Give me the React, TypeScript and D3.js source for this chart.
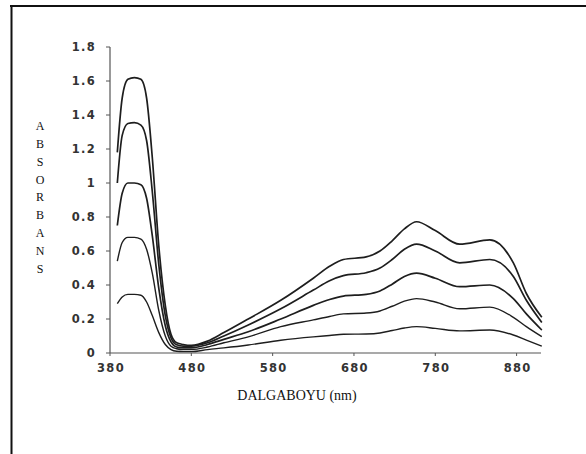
import { useMemo } from 'react'
import * as d3 from 'd3'

const wavelengths = [
    389, 395, 402, 410, 418, 425, 432, 440, 448, 455, 462, 470, 480, 500, 520,
    550, 590, 630, 650, 667, 695, 712, 727, 742, 757, 780, 810, 847, 876, 892, 911
]

const curve1 = [
    1.18, 1.5, 1.61, 1.62, 1.61, 1.5, 1.15, 0.63, 0.28, 0.11, 0.06, 0.05, 0.045,
    0.07, 0.12, 0.2, 0.31, 0.44, 0.51, 0.55, 0.565, 0.6, 0.66, 0.73, 0.772, 0.72,
    0.64, 0.665, 0.53, 0.35, 0.21
]
const curve2 = [
    1.0, 1.28, 1.35, 1.355, 1.34, 1.25, 0.95, 0.52, 0.22, 0.09, 0.048, 0.04, 0.04,
    0.06, 0.1, 0.165, 0.26, 0.37, 0.425, 0.455, 0.472, 0.5, 0.55, 0.61, 0.64, 0.6,
    0.53, 0.55, 0.45, 0.31, 0.18
]
const curve3 = [
    0.75, 0.94, 1.0, 1.0, 0.99, 0.91, 0.69, 0.38, 0.16, 0.065, 0.035, 0.03, 0.03,
    0.05, 0.08, 0.125, 0.2, 0.28, 0.315, 0.335, 0.345, 0.365, 0.405, 0.45, 0.47,
    0.44, 0.39, 0.4, 0.32, 0.23, 0.135
]
const curve4 = [
    0.54, 0.65, 0.68, 0.68, 0.67, 0.61, 0.47, 0.25, 0.1, 0.04, 0.025, 0.02, 0.02,
    0.035, 0.06, 0.095, 0.155, 0.195, 0.215, 0.23, 0.235, 0.247, 0.275, 0.305,
    0.32, 0.3, 0.26, 0.27, 0.21, 0.155, 0.096
]
const curve5 = [
    0.29, 0.33, 0.345, 0.345, 0.34, 0.3, 0.22, 0.12, 0.05, 0.02, 0.01, 0.008,
    0.008, 0.02, 0.03, 0.047, 0.075, 0.095, 0.103, 0.11, 0.112, 0.118, 0.132,
    0.147, 0.155, 0.145, 0.13, 0.135, 0.106, 0.076, 0.04
]

const series = [curve1, curve2, curve3, curve4, curve5]

const xTicks = [380, 480, 580, 680, 780, 880]
const yTicks = [0, 0.2, 0.4, 0.6, 0.8, 1, 1.2, 1.4, 1.6, 1.8]
const yLabelLetters = ['A', 'B', 'S', 'O', 'R', 'B', 'A', 'N', 'S']
const xTitle = 'DALGABOYU (nm)'

const W = 586
const H = 454
const plot = { left: 110, right: 541, top: 47, bottom: 353 }
const serif = '"Liberation Serif", "Times New Roman", "DejaVu Serif", serif'
const tickFont = {
    fontFamily: '"DejaVu Sans", sans-serif',
    fontWeight: 'bold',
    fontSize: 11.5,
    letterSpacing: 1.3,
    fill: '#333'
}

export default function App() {
    const xScale = useMemo(
        () => d3.scaleLinear().domain([380, 910]).range([plot.left, plot.right]),
        []
    )
    const yScale = useMemo(
        () => d3.scaleLinear().domain([0, 1.8]).range([plot.bottom, plot.top]),
        []
    )
    const line = d3
        .line<number>()
        .x((_, i) => xScale(wavelengths[i]))
        .y((d) => yScale(d))
        .curve(d3.curveMonotoneX)

    return (
        <svg
            width={W}
            height={H}
            style={{ position: 'absolute', left: 0, top: 0, background: '#fff' }}
        >
            {/* frame */}
            <line x1={10} y1={6} x2={W} y2={6} stroke="#111" strokeWidth={2} />
            <line x1={11.5} y1={5} x2={11.5} y2={H} stroke="#111" strokeWidth={2} />

            {/* y axis */}
            <line
                x1={plot.left}
                y1={yScale(0)}
                x2={plot.left}
                y2={yScale(1.8)}
                stroke="#555"
                strokeWidth={1.2}
            />
            {yTicks.map((t) => (
                <g key={t}>
                    <line
                        x1={plot.left - 4}
                        x2={plot.left}
                        y1={yScale(t)}
                        y2={yScale(t)}
                        stroke="#555"
                        strokeWidth={1}
                    />
                    <text
                        x={96}
                        y={yScale(t)}
                        dy="0.35em"
                        textAnchor="end"
                        {...tickFont}
                    >
                        {d3.format('~g')(t)}
                    </text>
                </g>
            ))}

            {/* x axis */}
            <line
                x1={plot.left}
                y1={plot.bottom}
                x2={plot.right}
                y2={plot.bottom}
                stroke="#555"
                strokeWidth={1.2}
            />
            {xTicks.map((t) => (
                <g key={t}>
                    <line
                        x1={xScale(t)}
                        x2={xScale(t)}
                        y1={plot.bottom}
                        y2={plot.bottom + 3}
                        stroke="#555"
                        strokeWidth={1}
                    />
                    <text
                        x={xScale(t) + 1}
                        y={372}
                        textAnchor="middle"
                        {...tickFont}
                    >
                        {t}
                    </text>
                </g>
            ))}

            {/* curves */}
            {series.map((s, i) => (
                <path
                    key={i}
                    d={line(s) || ''}
                    fill="none"
                    stroke="#1e1e1e"
                    strokeWidth={i < 3 ? 1.7 : 1.4}
                />
            ))}

            {/* titles */}
            <text
                x={297}
                y={400}
                textAnchor="middle"
                fontFamily={serif}
                fontSize={14}
                fill="#111"
            >
                {xTitle}
            </text>
            {yLabelLetters.map((c, i) => (
                <text
                    key={i}
                    x={40}
                    y={126 + i * 17.8}
                    dy="0.35em"
                    textAnchor="middle"
                    fontFamily={serif}
                    fontSize={12}
                    fill="#111"
                >
                    {c}
                </text>
            ))}
        </svg>
    )
}
